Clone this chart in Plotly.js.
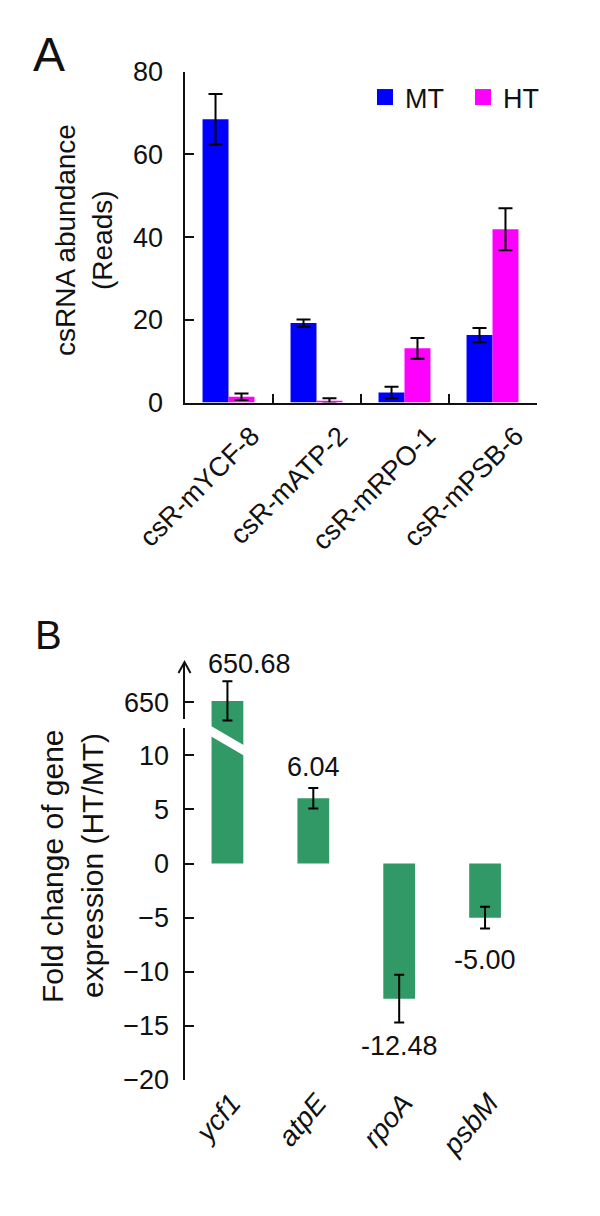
<!DOCTYPE html>
<html><head><meta charset="utf-8">
<script src="https://cdn.plot.ly/plotly-3.0.1.min.js"></script>
<style>html,body{margin:0;padding:0;background:#fff}</style>
</head><body><div id="chart" style="width:600px;height:1216px"></div>
<script>
// ---------- Panel A data ----------
const csrnaNames = ['csR-mYCF-8', 'csR-mATP-2', 'csR-mRPO-1', 'csR-mPSB-6'];
const mtReads = [68.5, 19.2, 2.4, 16.3];
const mtErr = [6.1, 0.9, 1.4, 1.7];
const htReads = [1.4, 0.4, 13.1, 41.9];
const htErr = [0.8, 0.6, 2.5, 5.1];
const aTicks = [0, 20, 40, 60, 80];

// ---------- Panel B data ----------
const genes = ['ycf1', 'atpE', 'rpoA', 'psbM'];
const foldChange = [650.68, 6.04, -12.48, -5.00];
const foldErr = [9.8, 0.95, 2.2, 1.0];
const bLowTicks = [-20, -15, -10, -5, 0, 5, 10];
const bHighTicks = [650];

// ---------- helpers ----------
const W = 600, H = 1216;
const px = x => x / W;
const py = y => 1 - y / H;
const FONT = 'Liberation Sans, Arial, sans-serif';
const BLUE = '#0000ff', PINK = '#ff00ff', GREEN = '#319966';

const lowRange = [-20, 12.9];
const lowDom = [py(1080), py(724)];
const highRange = [639.15, 669.65];
const highDom = [py(724), py(663)];
const zeroPos = lowDom[0] + (0 - lowRange[0]) / (lowRange[1] - lowRange[0]) * (lowDom[1] - lowDom[0]);
const bDomX = [px(184.5), px(528)];
const boundaries = genes.map((g, i) => i - 0.5).concat([genes.length - 0.5]);

const errStyle = (arr, w) => ({type: 'data', array: arr, visible: true, color: '#000', thickness: 2, width: w});

const traces = [
  {type: 'bar', name: 'MT', x: csrnaNames, y: mtReads, xaxis: 'x', yaxis: 'y',
   marker: {color: BLUE}, error_y: errStyle(mtErr, 7), showlegend: false},
  {type: 'bar', name: 'HT', x: csrnaNames, y: htReads, xaxis: 'x', yaxis: 'y',
   marker: {color: PINK}, error_y: errStyle(htErr, 7), showlegend: false},
  // legend proxies
  {type: 'scatter', mode: 'markers', name: 'MT', x: [null], y: [null], xaxis: 'x', yaxis: 'y',
   marker: {symbol: 'square', size: 18, color: BLUE}},
  {type: 'scatter', mode: 'markers', name: 'HT', x: [null], y: [null], xaxis: 'x', yaxis: 'y',
   marker: {symbol: 'square', size: 18, color: PINK}},
  // panel B lower segment
  {type: 'bar', x: genes, y: foldChange, xaxis: 'x2', yaxis: 'y2', width: 0.37,
   marker: {color: GREEN}, error_y: errStyle(foldErr, 5), showlegend: false},
  // panel B upper (broken) segment
  {type: 'bar', x: genes, y: foldChange, xaxis: 'x2', yaxis: 'y3', width: 0.37,
   marker: {color: GREEN}, error_y: errStyle(foldErr, 5), showlegend: false}
];

const tickFont = {family: FONT, size: 27, color: '#111'};

const valueAnnots = genes.map((g, i) => {
  const v = foldChange[i], e = foldErr[i];
  const pos = v >= 0;
  const shifts = [[22, 0], [0, 4], [0, -7], [0, -14]][i];
  return {
    xref: 'x2', yref: i === 0 ? 'y3' : 'y2', x: g, y: pos ? v + e : v - e,
    text: v.toFixed(2), showarrow: false, xanchor: 'center', yanchor: pos ? 'bottom' : 'top',
    xshift: shifts[0], yshift: shifts[1], font: {family: FONT, size: 27, color: '#111'}
  };
});

const rotTitle = (text, x, y, size) => ({
  xref: 'paper', yref: 'paper', x: px(x), y: py(y), xanchor: 'center', yanchor: 'middle',
  textangle: -90, showarrow: false, text: text, font: {family: FONT, size: size, color: '#111'}
});

const layout = {
  width: W, height: H,
  margin: {l: 0, r: 0, t: 0, b: 0},
  paper_bgcolor: '#fff', plot_bgcolor: 'rgba(0,0,0,0)',
  font: {family: FONT, color: '#111'},
  barmode: 'group', bargap: 0.41, bargroupgap: 0,
  showlegend: true,
  legend: {orientation: 'h', x: px(365), xanchor: 'left', y: py(73), yanchor: 'top',
           font: {family: FONT, size: 27, color: '#111'}, itemsizing: 'trace',
           bgcolor: 'rgba(0,0,0,0)', entrywidth: 53},
  xaxis: {domain: [px(184.5), px(536.5)], anchor: 'y', type: 'category',
          showline: true, linecolor: '#111', linewidth: 2, ticks: 'inside', tickson: 'boundaries',
          ticklen: 9, tickwidth: 2, tickcolor: '#111', tickangle: -45, tickfont: tickFont,
          ticklabelshift: 23, ticklabelstandoff: 5,
          showgrid: false, zeroline: false},
  yaxis: {domain: [py(402.5), py(71.7)], anchor: 'x', range: [0, 80], tickvals: aTicks,
          showline: true, linecolor: '#111', linewidth: 2, ticks: 'inside', ticklen: 9, tickwidth: 2,
          tickcolor: '#111', tickfont: tickFont, showgrid: false, zeroline: false, ticklabelstandoff: 14},
  xaxis2: {domain: bDomX, anchor: 'y2', type: 'category', range: [-0.5, genes.length - 0.5],
           showline: false, ticks: '', tickangle: -50, ticklabelshift: 4,
           tickfont: {family: FONT, size: 28, color: '#111', style: 'italic'},
           showgrid: false, zeroline: false},
  xaxis3: {overlaying: 'x2', anchor: 'free', position: zeroPos, range: [-0.5, genes.length - 0.5],
           showline: true, linecolor: '#111', linewidth: 2, ticks: 'inside', ticklen: 9, tickwidth: 2,
           tickcolor: '#111', tickvals: boundaries, showticklabels: false, showgrid: false, zeroline: false},
  xaxis4: {overlaying: 'x2', anchor: 'free', position: zeroPos, range: [-0.5, genes.length - 0.5],
           showline: false, ticks: 'outside', ticklen: 9, tickwidth: 2,
           tickcolor: '#111', tickvals: boundaries, showticklabels: false, showgrid: false, zeroline: false},
  yaxis2: {domain: lowDom, anchor: 'x2', range: lowRange, tickvals: bLowTicks,
           showline: true, linecolor: '#111', linewidth: 2, ticks: 'inside', ticklen: 9, tickwidth: 2,
           tickcolor: '#111', tickfont: tickFont, showgrid: false, zeroline: false, ticklabelstandoff: 8},
  yaxis3: {domain: highDom, anchor: 'x2', range: highRange, tickvals: bHighTicks,
           showline: true, linecolor: '#111', linewidth: 2, ticks: 'inside', ticklen: 9, tickwidth: 2,
           tickcolor: '#111', tickfont: tickFont, showgrid: false, zeroline: false, ticklabelstandoff: 8},
  annotations: [
    {xref: 'paper', yref: 'paper', x: px(31), y: py(54.5), xanchor: 'left', yanchor: 'middle',
     text: 'A', showarrow: false, font: {family: FONT, size: 48, color: '#111'}},
    {xref: 'paper', yref: 'paper', x: px(33), y: py(635), xanchor: 'left', yanchor: 'middle',
     text: 'B', showarrow: false, font: {family: FONT, size: 40, color: '#111'}},
    rotTitle('csRNA abundance', 65, 240, 28),
    rotTitle('(Reads)', 102, 240, 28),
    rotTitle('Fold change of gene', 52, 866, 30),
    rotTitle('expression (HT/MT)', 92, 866, 30)
  ].concat(valueAnnots),
  shapes: [
    // white slash across the broken ycf1 bar
    {type: 'line', xref: 'paper', yref: 'paper', x0: px(205), y0: py(727.6), x1: px(246), y1: py(751.6),
     line: {color: '#fff', width: 9}, layer: 'above'},
    // break in the y axis
    {type: 'rect', xref: 'paper', yref: 'paper', x0: px(178), x1: px(192), y0: py(728), y1: py(719),
     fillcolor: '#fff', line: {width: 0}, layer: 'above'},
    // arrow head at top of axis
    {type: 'path', xref: 'paper', yref: 'paper',
     path: `M ${px(178.5)},${py(673)} L ${px(184.5)},${py(662)} L ${px(190.5)},${py(673)}`,
     line: {color: '#111', width: 2}, layer: 'above'}
  ]
};

Plotly.newPlot('chart', traces, layout, {displayModeBar: false, staticPlot: true});
</script></body></html>
